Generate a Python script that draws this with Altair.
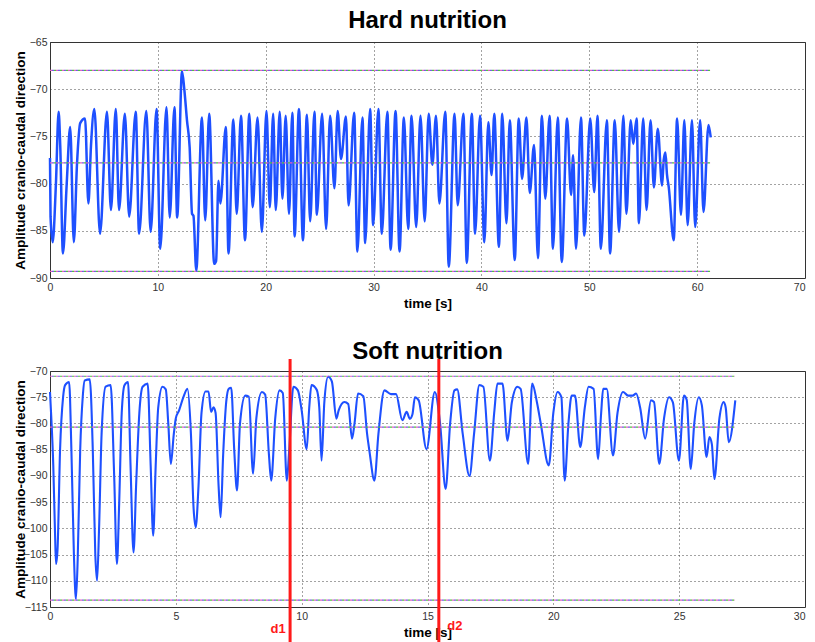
import altair as alt
import pandas as pd

# ---------------- data ----------------
# Hard nutrition (top): time [s] and amplitude
top_t = [0.0, 0.05, 0.25, 0.55, 0.8, 0.95, 1.2, 1.55, 1.87, 2.21, 2.5, 2.8, 3.25, 3.56, 3.8, 4.11,
         4.64, 5.28, 5.65, 6.1, 6.4, 6.94, 7.34, 7.95, 8.26, 8.93, 9.33, 9.88, 10.22, 10.8, 11.1,
         11.54, 11.79, 12.24, 12.45, 12.7, 12.95, 13.17, 13.3, 13.56, 14.09, 14.39, 14.76, 15.22,
         15.4, 15.62, 15.8, 16.3, 16.55, 17.0, 17.31, 17.71, 18.08, 18.48, 18.79, 19.24, 19.64,
         20.07, 20.38, 20.69, 20.93, 21.3, 21.55, 21.85, 22.16, 22.47, 22.68, 23.08, 23.45, 23.82,
         24.12, 24.52, 24.74, 25.23, 25.6, 25.97, 26.37, 26.67, 26.98, 27.44, 27.68, 28.2, 28.5,
         28.97, 29.22, 29.68, 29.96, 30.45, 30.76, 31.28, 31.58, 32.04, 32.41, 32.81, 33.21, 33.52,
         33.95, 34.35, 34.74, 35.11, 35.45, 35.79, 36.1, 36.65, 36.97, 37.51, 37.8, 38.33, 38.64,
         39.11, 39.41, 39.87, 40.27, 40.64, 40.94, 41.19, 41.62, 41.93, 42.32, 42.63, 43.09, 43.46,
         43.77, 44.17, 44.48, 44.88, 45.24, 45.61, 45.92, 46.32, 46.63, 47.08, 47.45, 47.94, 48.31,
         48.5, 48.77, 49.23, 49.54, 50.09, 50.46, 50.76, 51.07, 51.63, 51.93, 52.36, 52.76, 53.16,
         53.44, 53.84, 54.08, 54.39, 54.6, 55.0, 55.31, 55.68, 55.99, 56.35, 56.75, 56.9, 57.06,
         57.2, 57.37, 57.83, 58.14, 58.5, 58.81, 59.12, 59.52, 59.82, 60.28, 60.59, 61.05, 61.26]
top_v = [-77.3, -83.5, -86.2, -80.0, -72.4, -76.0, -87.4, -80.0, -74.0, -86.2, -78.0, -73.6, -73.1,
         -82.1, -76.0, -72.1, -85.3, -72.4, -82.8, -72.1, -82.8, -72.6, -83.5, -72.4, -85.3, -72.3,
         -85.1, -72.1, -86.9, -71.9, -83.6, -71.9, -83.6, -68.1, -70.0, -73.3, -76.2, -83.2, -83.4,
         -89.2, -73.0, -83.9, -72.6, -88.5, -88.2, -79.7, -82.1, -74.0, -87.4, -73.2, -83.2, -72.8,
         -86.0, -72.6, -82.5, -73.0, -85.1, -72.3, -82.5, -72.6, -82.8, -72.4, -81.6, -72.8, -83.2,
         -72.5, -85.6, -72.1, -86.0, -72.7, -84.0, -72.4, -83.3, -72.6, -84.8, -72.8, -80.5, -72.3,
         -77.4, -72.9, -82.3, -72.5, -87.2, -73.0, -86.3, -72.1, -84.4, -72.1, -85.3, -72.4, -87.0,
         -72.3, -87.2, -73.0, -84.8, -72.8, -84.6, -72.8, -84.0, -72.6, -78.0, -72.8, -82.1, -72.4,
         -88.8, -72.6, -82.3, -72.6, -88.4, -72.6, -85.3, -72.8, -86.2, -73.5, -79.1, -72.6, -86.7,
         -72.6, -84.2, -73.3, -88.1, -73.1, -79.5, -73.0, -81.0, -75.9, -87.9, -72.8, -81.6, -72.8,
         -86.9, -73.0, -88.3, -73.1, -81.2, -77.0, -86.9, -73.0, -85.5, -73.1, -80.9, -72.8, -86.9,
         -73.3, -87.4, -73.3, -85.1, -72.8, -83.2, -73.3, -75.8, -73.1, -84.2, -73.1, -82.8, -73.3,
         -80.4, -74.2, -80.2, -77.5, -76.7, -79.0, -80.4, -86.0, -73.1, -83.3, -73.3, -84.4, -73.3,
         -84.6, -73.3, -83.0, -73.8, -75.1]

# Soft nutrition (bottom)
bot_t = [0.0, 0.04, 0.13, 0.2, 0.24, 0.3, 0.4, 0.52, 0.6, 0.76, 0.85, 0.95, 1.03, 1.1, 1.2, 1.3,
         1.38, 1.58, 1.7, 1.8, 1.87, 1.95, 2.05, 2.21, 2.41, 2.55, 2.66, 2.75, 2.85, 2.96, 3.1, 3.2,
         3.32, 3.42, 3.55, 3.68, 3.88, 4.0, 4.1, 4.2, 4.3, 4.47, 4.6, 4.7, 4.8, 4.92, 5.0, 5.13, 5.3,
         5.46, 5.6, 5.7, 5.79, 5.9, 6.02, 6.18, 6.3, 6.4, 6.5, 6.58, 6.7, 6.78, 6.88, 7.0, 7.1, 7.2,
         7.32, 7.43, 7.55, 7.76, 7.9, 8.07, 8.2, 8.42, 8.55, 8.7, 8.79, 8.95, 9.12, 9.25, 9.41, 9.5,
         9.67, 9.85, 10.0, 10.2, 10.3, 10.39, 10.6, 10.7, 10.79, 10.9, 11.05, 11.2, 11.38, 11.47,
         11.7, 11.85, 12.0, 12.1, 12.24, 12.45, 12.6, 12.7, 12.89, 13.05, 13.29, 13.55, 13.75, 14.0,
         14.17, 14.3, 14.4, 14.5, 14.65, 14.96, 15.29, 15.5, 15.72, 15.9, 16.07, 16.18, 16.4, 16.67,
         16.85, 17.06, 17.22, 17.48, 17.65, 17.78, 17.98, 18.18, 18.35, 18.57, 18.7, 19.0, 19.16,
         19.35, 19.5, 19.82, 20.0, 20.17, 20.32, 20.45, 20.6, 20.73, 20.86, 21.07, 21.25, 21.4, 21.6,
         21.78, 21.9, 21.98, 22.12, 22.37, 22.55, 22.77, 22.97, 23.15, 23.29, 23.45, 23.65, 23.88,
         24.0, 24.21, 24.4, 24.6, 24.75, 24.99, 25.19, 25.3, 25.46, 25.6, 25.78, 25.9, 26.09, 26.2,
         26.3, 26.4, 26.6, 26.77, 26.85, 26.97, 27.23]
bot_v = [-74.0, -77.8, -88.0, -101.0, -106.8, -104.0, -85.0, -75.0, -72.7, -72.1, -85.0, -105.0,
         -113.5, -106.0, -85.0, -75.0, -71.8, -71.6, -85.0, -105.0, -110.0, -100.0, -82.0, -73.0,
         -72.7, -90.0, -106.8, -95.0, -78.0, -72.7, -72.1, -88.0, -104.6, -92.0, -78.0, -73.0, -72.4,
         -88.0, -101.4, -88.0, -77.0, -73.0, -73.5, -80.0, -87.7, -82.0, -79.0, -77.5, -75.0, -73.4,
         -82.0, -95.7, -99.8, -92.0, -78.0, -73.9, -73.9, -77.8, -76.9, -78.0, -92.0, -97.9, -86.0,
         -76.0, -73.4, -73.2, -85.0, -92.8, -80.0, -74.7, -74.9, -89.6, -79.0, -74.0, -74.5, -86.0,
         -90.9, -79.0, -73.7, -74.2, -90.9, -85.5, -73.0, -73.7, -77.5, -84.9, -77.0, -72.7, -73.6,
         -77.0, -87.1, -76.0, -71.1, -72.0, -79.1, -77.5, -75.9, -76.3, -82.9, -80.0, -74.3, -74.8,
         -82.0, -85.5, -90.9, -82.0, -73.7, -74.4, -74.4, -79.4, -77.8, -79.1, -78.3, -75.0, -75.6,
         -84.9, -74.0, -80.0, -92.5, -80.0, -73.7, -73.5, -82.0, -90.0, -82.0, -72.7, -73.0, -87.1,
         -78.0, -72.4, -72.4, -83.3, -76.0, -73.0, -73.4, -87.7, -72.4, -76.0, -80.0, -88.0, -78.0,
         -74.0, -75.0, -90.9, -80.0, -74.7, -74.7, -84.5, -77.0, -73.0, -73.4, -86.8, -78.0, -73.4,
         -73.4, -86.1, -78.0, -74.0, -74.7, -74.7, -74.3, -77.0, -82.9, -75.6, -75.9, -87.7, -79.0,
         -75.0, -76.0, -87.1, -74.7, -75.5, -88.7, -80.0, -75.0, -76.5, -86.4, -82.6, -84.0, -90.6,
         -79.0, -75.9, -77.0, -83.6, -75.6]

top_ref_y = [-68.0, -77.8, -89.3]
top_ref_end = [61.2, 61.2, 61.2]
bot_ref_y = [-71.0, -80.7, -113.7]
bot_ref_end = [27.2, 27.2, 27.2]

marker_t = [9.54, 15.45]
marker_lbl = ["d1", "d2"]

# ---------------- chart ----------------
BLUE = "#1e50ff"
RED = "#ff1a1a"
W, H = 755, 236
FONT = "Liberation Sans"


def panel(t, v, ref_y, ref_end, xmax, xstep, ymin, ymax, lw):
    df = pd.DataFrame({"t": t, "v": v})
    refs = pd.DataFrame({"x0": [0.0] * len(ref_y), "x1": ref_end, "y": ref_y})
    xs = alt.Scale(domain=[0, xmax], nice=False, zero=False)
    ys = alt.Scale(domain=[ymin, ymax], nice=False, zero=False)
    xax = alt.Axis(values=list(range(0, xmax + 1, xstep)), title="time [s]", labelOverlap=False,
                   labelAlign={"condition": {"test": f"datum.value >= {xmax}", "value": "right"},
                               "value": "center"})
    yax = alt.Axis(values=list(range(ymin, ymax + 1, 5)), labelOverlap=False,
                   title="Amplitude cranio-caudal direction", titleX=-23)
    line = alt.Chart(df).mark_line(color=BLUE, strokeWidth=lw, interpolate="monotone").encode(
        x=alt.X("t:Q", scale=xs, axis=xax),
        y=alt.Y("v:Q", scale=ys, axis=yax),
    )
    layers = [line]
    for col, off in [("#e060c0", 0), ("#50c040", 2), ("#7060e0", 4)]:
        layers.append(
            alt.Chart(refs).mark_rule(color=col, strokeWidth=1.2, strokeDash=[2, 4],
                                      strokeDashOffset=off).encode(
                x=alt.X("x0:Q", scale=xs, axis=xax), x2="x1:Q",
                y=alt.Y("y:Q", scale=ys, axis=yax))
        )
    return layers, xs, xax


top_layers, _, _ = panel(top_t, top_v, top_ref_y, top_ref_end, 70, 10, -90, -65, 2.5)
top = alt.layer(*top_layers).properties(
    width=W, height=H, title=alt.TitleParams("Hard nutrition", offset=4))

bot_layers, bxs, bxax = panel(bot_t, bot_v, bot_ref_y, bot_ref_end, 30, 5, -115, -70, 2.1)
mk = pd.DataFrame({"t": marker_t, "lbl": marker_lbl})
red_rules = alt.Chart(mk).mark_rule(color=RED, strokeWidth=3).encode(
    x=alt.X("t:Q", scale=bxs, axis=bxax), y=alt.value(-12), y2=alt.value(272))
d1 = alt.Chart(mk).transform_filter(alt.datum.lbl == "d1").mark_text(
    color=RED, fontWeight="bold", fontSize=13, font=FONT, dx=-12).encode(
    x=alt.X("t:Q", scale=bxs, axis=bxax), y=alt.value(258), text="lbl:N")
d2 = alt.Chart(mk).transform_filter(alt.datum.lbl == "d2").mark_text(
    color=RED, fontWeight="bold", fontSize=13, font=FONT, dx=16).encode(
    x=alt.X("t:Q", scale=bxs, axis=bxax), y=alt.value(255), text="lbl:N")
bottom = alt.layer(*bot_layers, red_rules, d1, d2).properties(
    width=W, height=H, title=alt.TitleParams("Soft nutrition", offset=-6))

chart = alt.vconcat(top, bottom, spacing=28).properties(
    padding={"left": 4, "top": 0, "right": 0, "bottom": 0}
).configure_view(stroke="#333333", strokeWidth=1).configure_axis(
    grid=True, gridDash=[1, 3], gridColor="#333333", gridOpacity=0.9,
    domain=False, ticks=False,
    labelFont=FONT, labelFontSize=10.5, labelColor="#333333", labelPadding=4,
    titleFont=FONT, titleFontSize=13.5, titleFontWeight="bold", titleColor="#000000",
    titlePadding=4,
).configure_axisY(labelPadding=3).configure_title(
    font=FONT, fontSize=24, fontWeight="bold", color="#000000", anchor="middle"
)

chart.save("out.html", embed_options={"renderer": "svg", "actions": False})
